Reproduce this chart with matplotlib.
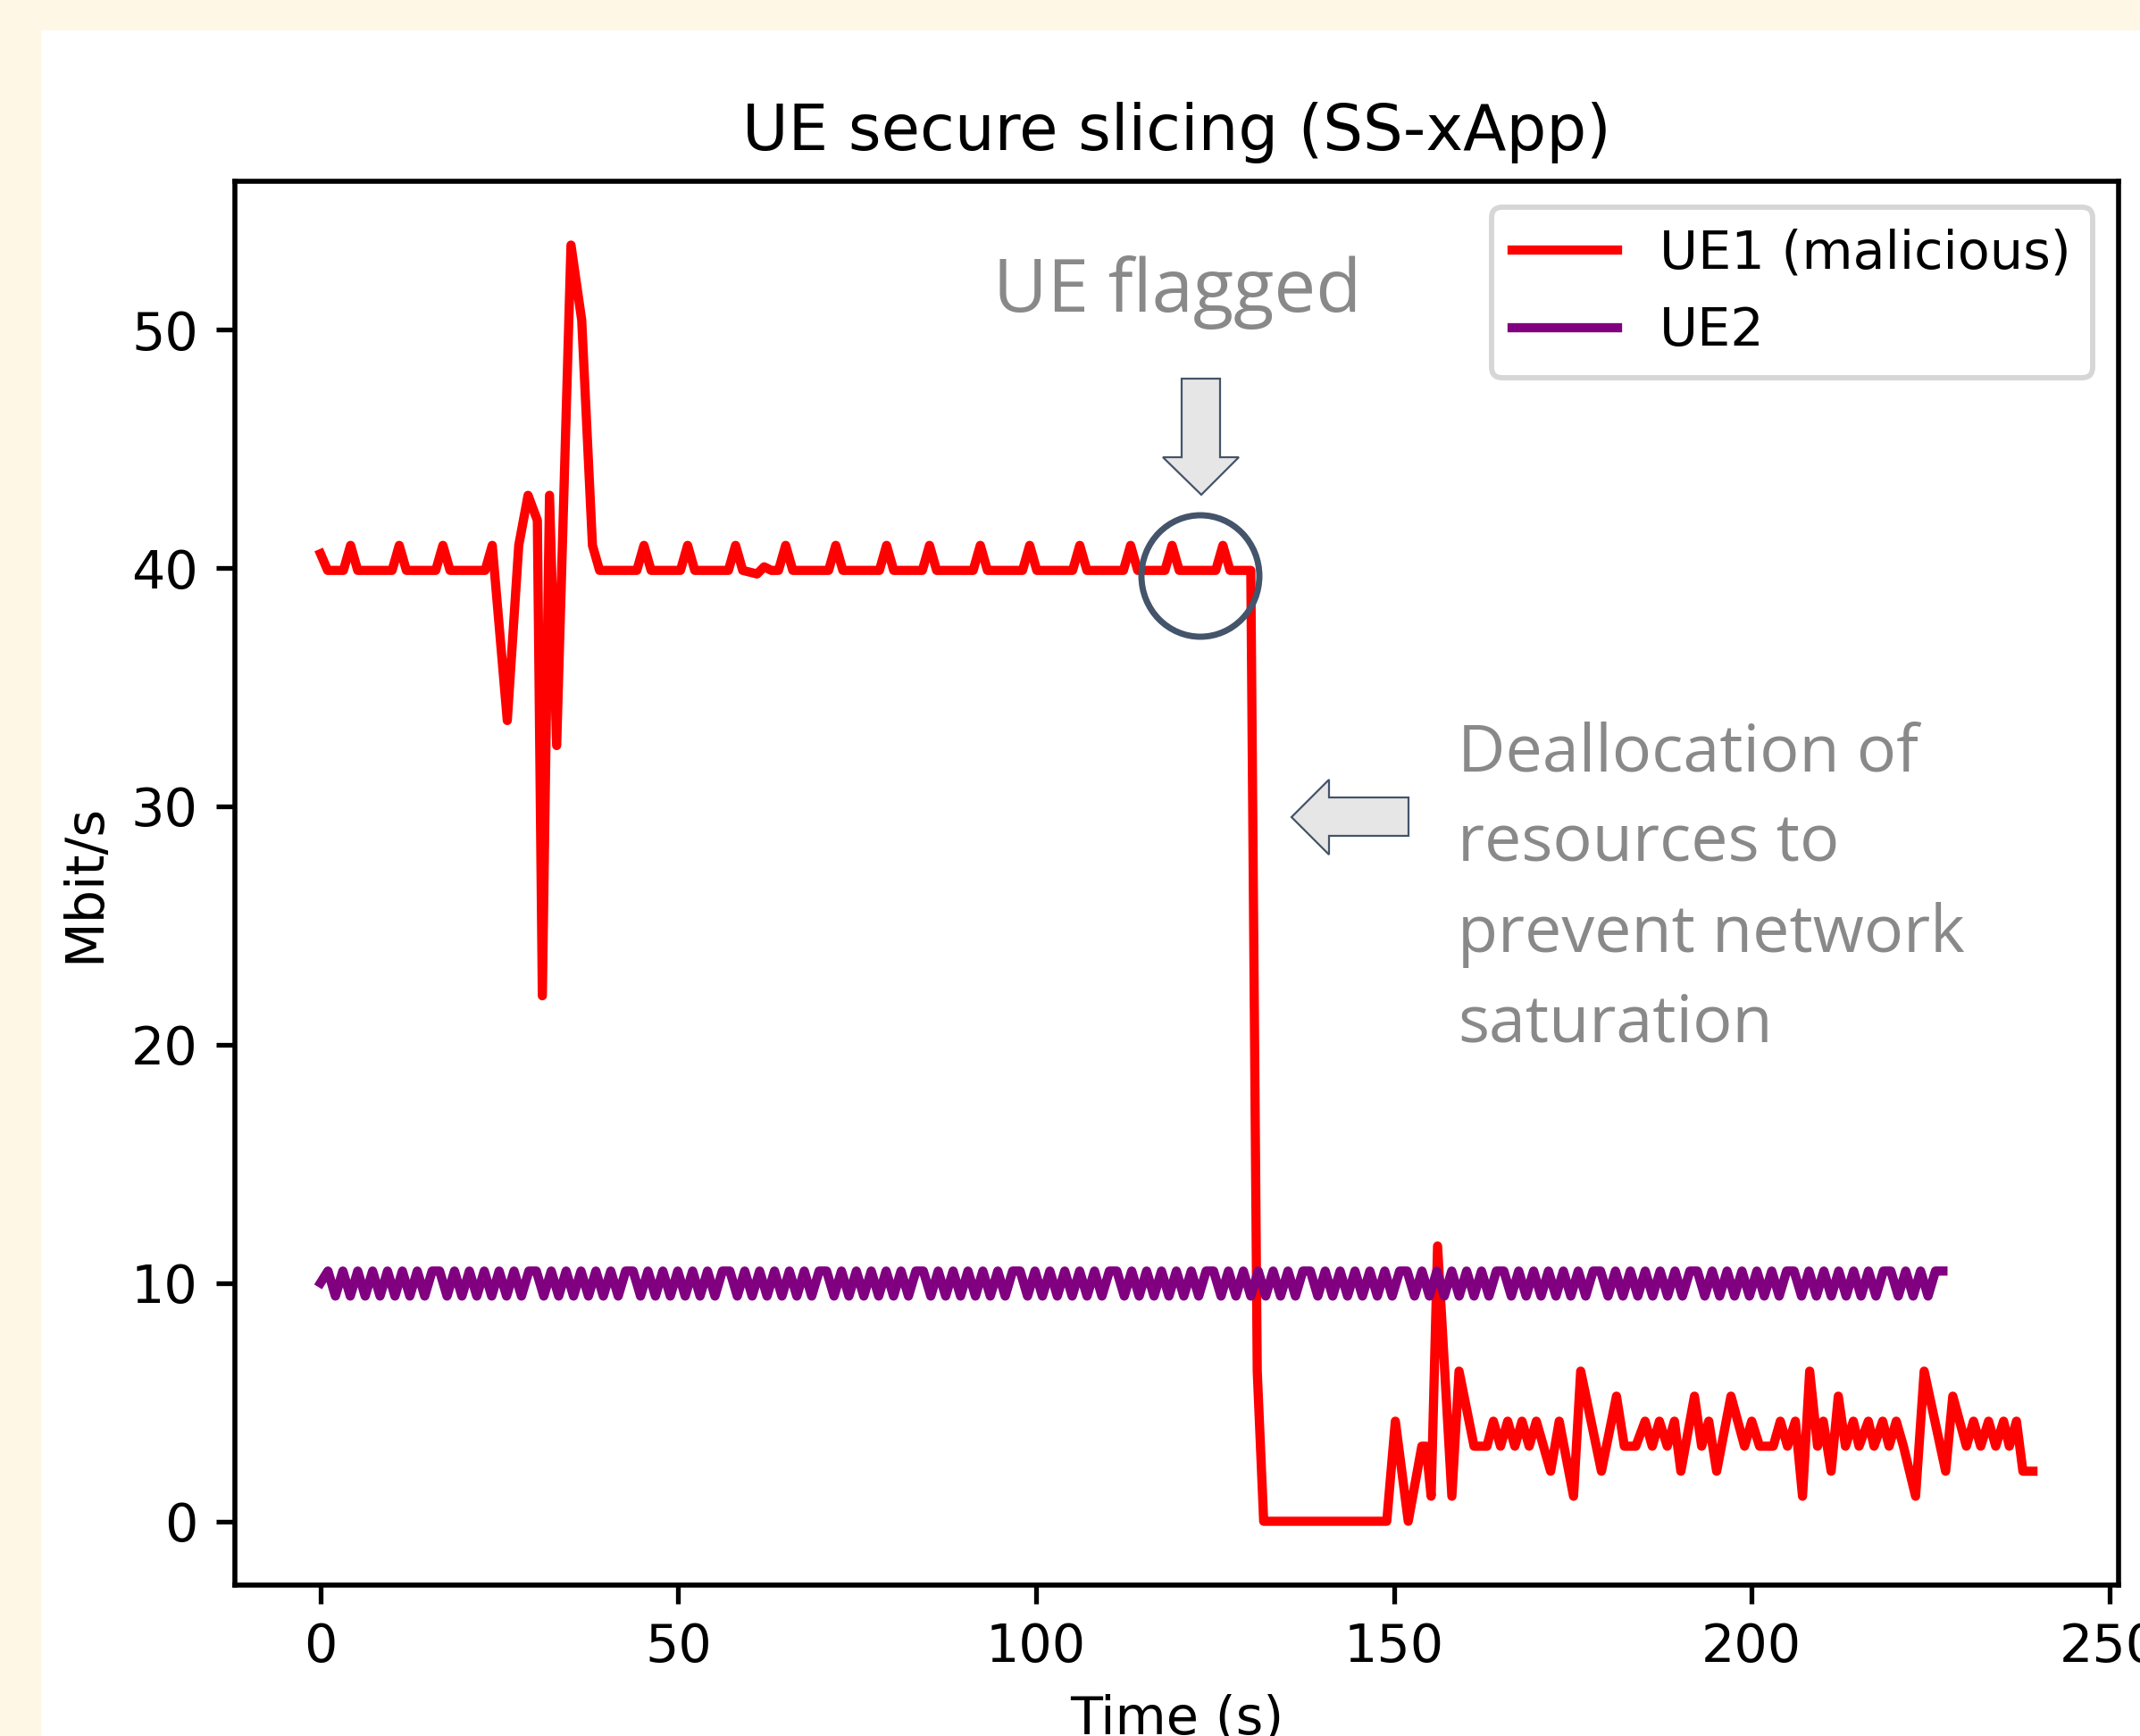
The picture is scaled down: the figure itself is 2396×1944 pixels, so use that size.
import matplotlib
matplotlib.use("Agg")
import matplotlib.pyplot as plt
from matplotlib.patches import Rectangle, Polygon, Ellipse
import numpy as np

# ---------------- data ----------------
# UE1 (malicious) throughput, vertices of the line (time s, Mbit/s)
ue1_time = [0.0, 1.0,
            3.2, 4.2, 5.2,
            10.0, 11.0, 12.0,
            16.1, 17.1, 18.1,
            23.0, 24.0, 26.1, 27.7, 29.0, 30.3, 31.0, 32.0, 33.0, 35.0, 36.5, 38.0, 39.0,
            44.2, 45.2, 46.2,
            50.3, 51.3, 52.3,
            57.0, 58.0, 59.0,
            61.0, 62.0, 63.0,
            64.0, 65.0, 66.0,
            71.0, 72.0, 73.0,
            78.1, 79.1, 80.1,
            84.1, 85.1, 86.1,
            91.2, 92.2, 93.2,
            98.1, 99.1, 100.1,
            105.1, 106.1, 107.1,
            112.2, 113.2, 114.2,
            118.0, 119.0, 120.0,
            125.1, 126.1, 127.1,
            130.0, 130.9, 131.8,
            149.0, 150.2, 152.0, 153.9, 154.5, 155.2, 156.1, 158.1, 159.1, 161.2,
            163.0, 163.9, 164.9, 165.9, 166.9, 167.9, 168.9, 169.9, 171.9, 173.1,
            175.1, 176.1, 179.0, 181.1, 182.2, 183.8, 185.1, 186.1, 187.1, 188.2,
            189.2, 190.1, 192.0, 193.0, 194.0, 195.1, 197.1, 199.0, 200.0, 201.1,
            203.0, 204.0, 205.0, 206.1, 207.1, 208.1, 209.2, 210.0, 211.1, 212.1,
            213.1, 214.2, 215.0, 216.3, 217.1, 218.3, 219.2, 220.2, 221.2, 222.9,
            224.1, 227.1, 228.1, 230.0, 231.0, 232.0, 233.1, 234.1, 235.2, 236.0,
            237.0, 237.9, 239.3]
ue1_rate = [40.6, 39.9,
            39.9, 40.95, 39.9,
            39.9, 40.95, 39.9,
            39.9, 40.95, 39.9,
            39.9, 40.95, 33.6, 40.95, 43.05, 42.0, 22.05, 43.05, 32.55, 53.55, 50.4, 40.95, 39.9,
            39.9, 40.95, 39.9,
            39.9, 40.95, 39.9,
            39.9, 40.95, 39.9,
            39.75, 40.05, 39.9,
            39.9, 40.95, 39.9,
            39.9, 40.95, 39.9,
            39.9, 40.95, 39.9,
            39.9, 40.95, 39.9,
            39.9, 40.95, 39.9,
            39.9, 40.95, 39.9,
            39.9, 40.95, 39.9,
            39.9, 40.95, 39.9,
            39.9, 40.95, 39.9,
            39.9, 40.95, 39.9,
            39.9, 6.3, 0.0,
            0.0, 4.2, 0.0, 3.15, 3.15, 1.05, 11.55, 1.05, 6.3, 3.15,
            3.15, 4.2, 3.15, 4.2, 3.15, 4.2, 3.15, 4.2, 2.1, 4.2,
            1.05, 6.3, 2.1, 5.25, 3.15, 3.15, 4.2, 3.15, 4.2, 3.15,
            4.2, 2.1, 5.25, 3.15, 4.2, 2.1, 5.25, 3.15, 4.2, 3.15,
            3.15, 4.2, 3.15, 4.2, 1.05, 6.3, 3.15, 4.2, 2.1, 5.25,
            3.15, 4.2, 3.15, 4.2, 3.15, 4.2, 3.15, 4.2, 3.15, 1.05,
            6.3, 2.1, 5.25, 3.15, 4.2, 3.15, 4.2, 3.15, 4.2, 3.15,
            4.2, 2.1, 2.1]

# UE2 throughput, one value per sample
ue2_rate = [10.0,
            10.5, 9.45, 10.5, 9.45, 10.5, 9.45, 10.5, 9.45, 10.5, 9.45, 10.5, 9.45, 10.5, 9.45, 10.5,
            10.5, 9.45, 10.5, 9.45, 10.5, 9.45, 10.5, 9.45, 10.5, 9.45, 10.5, 9.45, 10.5,
            10.5, 9.45, 10.5, 9.45, 10.5, 9.45, 10.5, 9.45, 10.5, 9.45, 10.5, 9.45, 10.5,
            10.5, 9.45, 10.5, 9.45, 10.5, 9.45, 10.5, 9.45, 10.5, 9.45, 10.5, 9.45, 10.5,
            10.5, 9.45, 10.5, 9.45, 10.5, 9.45, 10.5, 9.45, 10.5, 9.45, 10.5, 9.45, 10.5,
            10.5, 9.45, 10.5, 9.45, 10.5, 9.45, 10.5, 9.45, 10.5, 9.45, 10.5, 9.45, 10.5,
            10.5, 9.45, 10.5, 9.45, 10.5, 9.45, 10.5, 9.45, 10.5, 9.45, 10.5, 9.45, 10.5,
            10.5, 9.45, 10.5, 9.45, 10.5, 9.45, 10.5, 9.45, 10.5, 9.45, 10.5, 9.45, 10.5,
            10.5, 9.45, 10.5, 9.45, 10.5, 9.45, 10.5, 9.45, 10.5, 9.45, 10.5, 9.45, 10.5,
            10.5, 9.45, 10.5, 9.45, 10.5, 9.45, 10.5, 9.45, 10.5, 9.45, 10.5, 9.45, 10.5,
            10.5, 9.45, 10.5, 9.45, 10.5, 9.45, 10.5, 9.45, 10.5, 9.45, 10.5, 9.45, 10.5,
            10.5, 9.45, 10.5, 9.45, 10.5, 9.45, 10.5, 9.45, 10.5, 9.45, 10.5, 9.45, 10.5,
            10.5, 9.45, 10.5, 9.45, 10.5, 9.45, 10.5, 9.45, 10.5, 9.45, 10.5, 9.45, 10.5,
            10.5, 9.45, 10.5, 9.45, 10.5, 9.45, 10.5, 9.45, 10.5, 9.45, 10.5, 9.45, 10.5,
            10.5, 9.45, 10.5, 9.45, 10.5, 9.45, 10.5, 9.45, 10.5, 9.45, 10.5, 9.45, 10.5,
            10.5, 9.45, 10.5, 9.45, 10.5, 9.45, 10.5, 9.45, 10.5, 9.45, 10.5, 9.45, 10.5,
            10.5, 9.45, 10.5, 9.45, 10.5, 9.45, 10.5, 10.5]
ue2_sample_period = 1.04  # seconds between UE2 samples
ue2_time = np.arange(len(ue2_rate)) * ue2_sample_period

series_labels = ["UE1 (malicious)", "UE2"]
series_colors = ["red", "purple"]

title = "UE secure slicing (SS-xApp)"
xlabel = "Time (s)"
ylabel = "Mbit/s"
note_flag = "UE flagged"
note_dealloc = ["Deallocation of", "resources to", "prevent network", "saturation"]

# ---------------- layout ----------------
W, H, DPI = 2396, 1944, 100
S = 4.24  # scale of the embedded matplotlib chart


def fx(x):
    return x / W


def fy(y):
    return 1 - y / H


fig = plt.figure(figsize=(W / DPI, H / DPI), dpi=DPI, facecolor="#FFF7E6")
fig.patches.append(Rectangle((fx(46), 0), 1, fy(34), transform=fig.transFigure,
                             facecolor="white", edgecolor="none", zorder=-10))

ax = fig.add_axes([fx(263), fy(1775), (2372 - 263) / W, (1775 - 203) / H])
ax.set_facecolor("white")
ax.set_zorder(1)

LW = 1.75 * S
ax.plot(ue1_time, ue1_rate, color=series_colors[0], lw=LW, label=series_labels[0],
        solid_joinstyle="round")
ax.plot(ue2_time, ue2_rate, color=series_colors[1], lw=LW, label=series_labels[1],
        solid_joinstyle="round")

fs = 10 * S
ax.set_title(title, fontsize=12 * S, pad=6 * S, family="DejaVu Sans")
ax.set_xlabel(xlabel, fontsize=fs, labelpad=4 * S)
ax.set_ylabel(ylabel, fontsize=fs, labelpad=4 * S)
ax.set_xticks([0, 50, 100, 150, 200, 250])
ax.set_yticks([0, 10, 20, 30, 40, 50])
ax.tick_params(labelsize=fs, length=3.5 * S, width=0.9 * S, pad=3.5 * S)
for sp in ax.spines.values():
    sp.set_linewidth(0.95 * S)

leg = ax.legend(loc="upper right", fontsize=fs, framealpha=0.8)
leg.get_frame().set_linewidth(1.0 * S)

# ---------------- slide overlays ----------------
edge = "#44546A"
fillc = "#E7E6E6"
gray = "#898989"

down_arrow = [(1323, 424), (1366, 424), (1366, 512), (1387, 512), (1345, 554),
              (1302, 512), (1323, 512)]
fig.patches.append(Polygon([(fx(a), fy(b)) for a, b in down_arrow], closed=True,
                           transform=fig.transFigure, facecolor=fillc, edgecolor=edge,
                           lw=1.6, zorder=5))
left_arrow = [(1446, 915), (1488, 873), (1488, 893), (1577, 893), (1577, 936),
              (1488, 936), (1488, 957)]
fig.patches.append(Polygon([(fx(a), fy(b)) for a, b in left_arrow], closed=True,
                           transform=fig.transFigure, facecolor=fillc, edgecolor=edge,
                           lw=1.6, zorder=5))
fig.patches.append(Ellipse((fx(1344), fy(645)), 132 / W, 136 / H, transform=fig.transFigure,
                           facecolor="none", edgecolor=edge, lw=5.0, zorder=6))

fig.text(fx(1318), fy(349), note_flag, ha="center", va="baseline", color=gray,
         fontsize=60, family="Open Sans", zorder=6)
for i, line in enumerate(note_dealloc):
    fig.text(fx(1632), fy(863 + 101.3 * i), line, ha="left", va="baseline", color=gray,
             fontsize=53, family="Open Sans", zorder=6)

fig.savefig("out.png", dpi=DPI, facecolor=fig.get_facecolor())
